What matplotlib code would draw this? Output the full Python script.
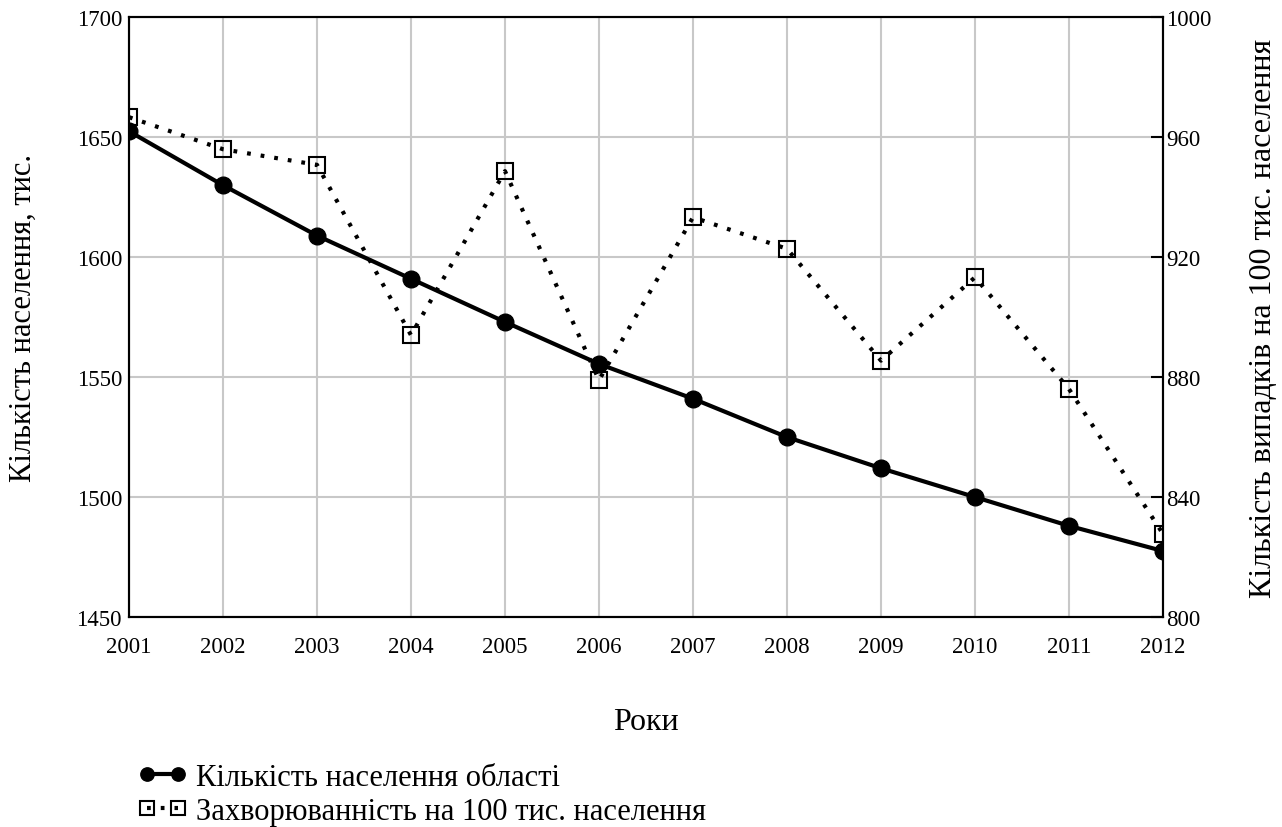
import numpy as np
import matplotlib
matplotlib.use("Agg")
import matplotlib.pyplot as plt

plt.rcParams['font.family'] = ['Liberation Serif', 'DejaVu Serif']

years = [2001, 2002, 2003, 2004, 2005, 2006, 2007, 2008, 2009, 2010, 2011, 2012]
population = [1652.5, 1630, 1609, 1591, 1573, 1555.5, 1541, 1525, 1512, 1500, 1488, 1477.5]
incidence = [966.7, 956, 950.8, 894, 948.7, 879, 933.3, 922.8, 885.5, 913.3, 876, 827.7]

left_ticks = [1450, 1500, 1550, 1600, 1650, 1700]
right_ticks = [800, 840, 880, 920, 960, 1000]

fig = plt.figure(figsize=(12.82, 8.28), dpi=100)
ax = fig.add_axes([0.1006, 0.2536, 0.8066, 0.7243])
ax2 = ax.twinx()

l1, = ax.plot(years, population, color='black', linewidth=3, marker='o',
              markersize=12, label='Кількість населення області')
l2, = ax2.plot(years, incidence, color='black', linewidth=3, linestyle=(0, (0.9, 2.4)),
               marker='s', markersize=12, markerfacecolor='none', markeredgewidth=1.5,
               label='Захворюванність на 100 тис. населення')

ax.set_xlim(2001, 2012)
ax.set_ylim(1450, 1700)
ax2.set_ylim(800, 1000)
ax.set_xticks(years)
ax.set_yticks(left_ticks)
ax2.set_yticks(right_ticks)

ax.grid(True, color='#c8c8c8', linewidth=1.5)
ax.set_axisbelow(True)
ax.tick_params(axis='both', length=0, labelsize=16.5, pad=5)
ax.tick_params(axis='x', pad=14)
ax2.tick_params(axis='y', direction='in', length=9, width=1.5, labelsize=16.5, pad=2)

for a in (ax, ax2):
    for s in a.spines.values():
        s.set_linewidth(1.5)

ax.set_xlabel('Роки', fontsize=23, labelpad=36)
ax.set_ylabel('Кількість населення, тис.', fontsize=22, labelpad=28)
ax2.set_ylabel('Кількість випадків на 100 тис. населення', fontsize=23,
               rotation=90, labelpad=27)

fig.legend(handles=[l1, l2], loc='upper left', bbox_to_anchor=(0.098, 0.092),
           frameon=False, fontsize=22, numpoints=2, handlelength=1.6,
           handletextpad=0.3, labelspacing=0.15, borderaxespad=0, markerscale=0.8)

fig.savefig('out.png', dpi=100)
